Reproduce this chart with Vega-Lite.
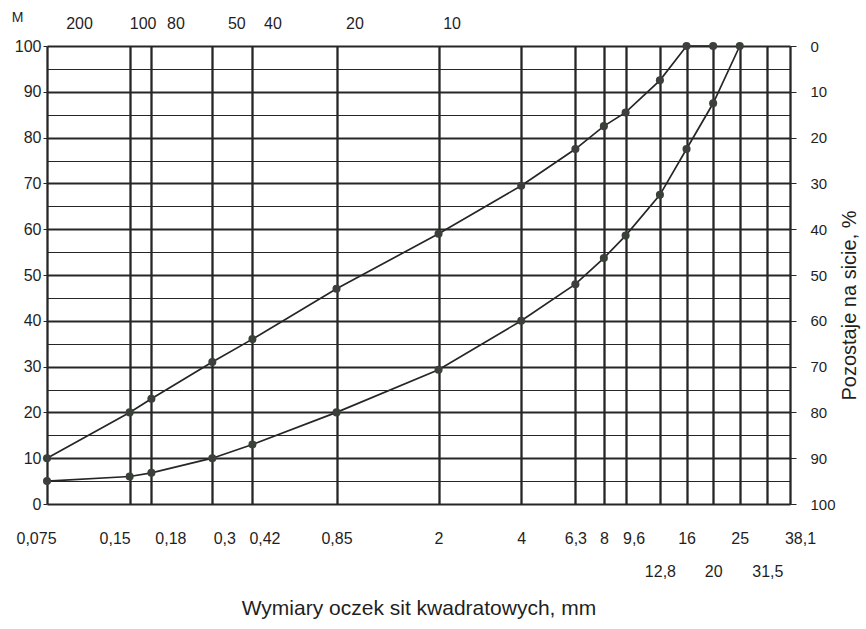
{
  "$schema": "https://vega.github.io/schema/vega-lite/v6.json",
  "width": 743,
  "height": 458,
  "autosize": {"type": "none"},
  "padding": {"left": 47, "top": 46, "right": 76, "bottom": 125},
  "background": "white",
  "config": {
    "view": {"stroke": null},
    "font": "Liberation Sans",
    "axis": {"labelColor": "#1f1f1f", "titleColor": "#1f1f1f", "titleFontWeight": "normal", "tickColor": "#262626", "gridColor": "#262626", "gridOpacity": 1, "domain": false}
  },
  "data": {
    "values": [
      {"curve": "A", "sieve": 0.075, "passing": 10, "retained": 90},
      {"curve": "A", "sieve": 0.15, "passing": 20, "retained": 80},
      {"curve": "A", "sieve": 0.18, "passing": 23, "retained": 77},
      {"curve": "A", "sieve": 0.3, "passing": 31, "retained": 69},
      {"curve": "A", "sieve": 0.42, "passing": 36, "retained": 64},
      {"curve": "A", "sieve": 0.85, "passing": 47, "retained": 53},
      {"curve": "A", "sieve": 2, "passing": 59, "retained": 41},
      {"curve": "A", "sieve": 4, "passing": 69.5, "retained": 30.5},
      {"curve": "A", "sieve": 6.3, "passing": 77.5, "retained": 22.5},
      {"curve": "A", "sieve": 8, "passing": 82.5, "retained": 17.5},
      {"curve": "A", "sieve": 9.6, "passing": 85.5, "retained": 14.5},
      {"curve": "A", "sieve": 12.8, "passing": 92.5, "retained": 7.5},
      {"curve": "A", "sieve": 16, "passing": 100, "retained": 0},
      {"curve": "A", "sieve": 20, "passing": 100, "retained": 0},
      {"curve": "B", "sieve": 0.075, "passing": 5, "retained": 95},
      {"curve": "B", "sieve": 0.15, "passing": 6, "retained": 94},
      {"curve": "B", "sieve": 0.18, "passing": 6.8, "retained": 93.2},
      {"curve": "B", "sieve": 0.3, "passing": 10, "retained": 90},
      {"curve": "B", "sieve": 0.42, "passing": 13, "retained": 87},
      {"curve": "B", "sieve": 0.85, "passing": 20, "retained": 80},
      {"curve": "B", "sieve": 2, "passing": 29.3, "retained": 70.7},
      {"curve": "B", "sieve": 4, "passing": 40, "retained": 60},
      {"curve": "B", "sieve": 6.3, "passing": 48, "retained": 52},
      {"curve": "B", "sieve": 8, "passing": 53.7, "retained": 46.3},
      {"curve": "B", "sieve": 9.6, "passing": 58.6, "retained": 41.4},
      {"curve": "B", "sieve": 12.8, "passing": 67.5, "retained": 32.5},
      {"curve": "B", "sieve": 16, "passing": 77.5, "retained": 22.5},
      {"curve": "B", "sieve": 20, "passing": 87.5, "retained": 12.5},
      {"curve": "B", "sieve": 25, "passing": 100, "retained": 0}
    ]
  },
  "layer": [
    {
      "mark": {"type": "line", "color": "#262626", "strokeWidth": 1.7},
      "encoding": {
        "x": {
          "field": "sieve",
          "type": "quantitative",
          "scale": {"type": "log", "domain": [0.075, 38.1], "nice": false},
          "axis": {
            "orient": "bottom",
            "values": [0.075, 0.15, 0.18, 0.3, 0.42, 0.85, 2, 4, 6.3, 8, 9.6, 12.8, 16, 20, 25, 31.5, 38.1],
            "grid": true,
            "gridWidth": 2.3,
            "ticks": false,
            "tickSize": 0,
            "labelFontSize": 16,
            "labelBaseline": "top",
            "labelFlush": false,
            "labelOverlap": false,
            "labelBound": false,
            "labelExpr": "replace(toString(datum.value), '.', ',')",
            "labelPadding": {"condition": {"test": "datum.value == 12.8 || datum.value == 20 || datum.value == 31.5", "value": 59}, "value": 26},
            "labelOffset": {"condition": [
              {"test": "datum.value == 0.075", "value": -11},
              {"test": "datum.value == 0.15", "value": -15},
              {"test": "datum.value == 0.18", "value": 19},
              {"test": "datum.value == 0.3 || datum.value == 0.42", "value": 12},
              {"test": "datum.value == 9.6", "value": 8},
              {"test": "datum.value == 38.1", "value": 10}
            ], "value": 0},
            "title": "Wymiary oczek sit kwadratowych, mm",
            "titleFontSize": 21,
            "titlePadding": 18
          }
        },
        "y": {
          "field": "passing",
          "type": "quantitative",
          "scale": {"domain": [0, 100], "nice": false},
          "axis": {
            "orient": "left",
            "values": [0, 5, 10, 15, 20, 25, 30, 35, 40, 45, 50, 55, 60, 65, 70, 75, 80, 85, 90, 95, 100],
            "grid": true,
            "gridWidth": {"condition": {"test": "datum.value % 10 === 0", "value": 2}, "value": 1.1},
            "tickSize": 4,
            "tickOpacity": {"condition": {"test": "datum.value % 10 === 0", "value": 1}, "value": 0},
            "labelExpr": "datum.value % 10 === 0 ? datum.label : ''",
            "labelFontSize": 16,
            "labelPadding": 2,
            "title": null
          }
        },
        "detail": {"field": "curve", "type": "nominal"}
      }
    },
    {
      "mark": {"type": "point", "filled": true, "color": "#3b403a", "size": 65, "opacity": 1},
      "encoding": {
        "x": {
          "field": "sieve",
          "type": "quantitative",
          "axis": {
            "orient": "top",
            "values": [0.075, 0.15, 0.18, 0.3, 0.42, 0.85, 2],
            "grid": false,
            "ticks": false,
            "tickSize": 0,
            "labelFontSize": 16,
            "labelPadding": 15,
            "labelFlush": false,
            "labelOverlap": false,
            "labelExpr": "datum.value == 0.075 ? '200' : datum.value == 0.15 ? '100' : datum.value == 0.18 ? '80' : datum.value == 0.3 ? '50' : datum.value == 0.42 ? '40' : datum.value == 0.85 ? '20' : '10'",
            "labelOffset": {"condition": [
              {"test": "datum.value == 0.075", "value": 32},
              {"test": "datum.value == 0.18 || datum.value == 0.3", "value": 24},
              {"test": "datum.value == 0.42", "value": 20},
              {"test": "datum.value == 0.85", "value": 18}
            ], "value": 13},
            "title": "M",
            "titleFontSize": 14,
            "titleAngle": 0,
            "titleAlign": "center",
            "titleBaseline": "middle",
            "titleX": -30,
            "titleY": -29
          }
        },
        "y": {
          "field": "retained",
          "type": "quantitative",
          "scale": {"domain": [0, 100], "reverse": true, "nice": false},
          "axis": {
            "orient": "right",
            "values": [0, 10, 20, 30, 40, 50, 60, 70, 80, 90, 100],
            "grid": false,
            "tickSize": 6,
            "labelFontSize": 15,
            "labelPadding": 14,
            "title": "Pozostaje na sicie, %",
            "titleFontSize": 20,
            "titleAngle": 270,
            "titlePadding": 24,
            "titleY": 259
          }
        }
      }
    }
  ],
  "resolve": {"scale": {"y": "independent"}, "axis": {"x": "independent", "y": "independent"}}
}
